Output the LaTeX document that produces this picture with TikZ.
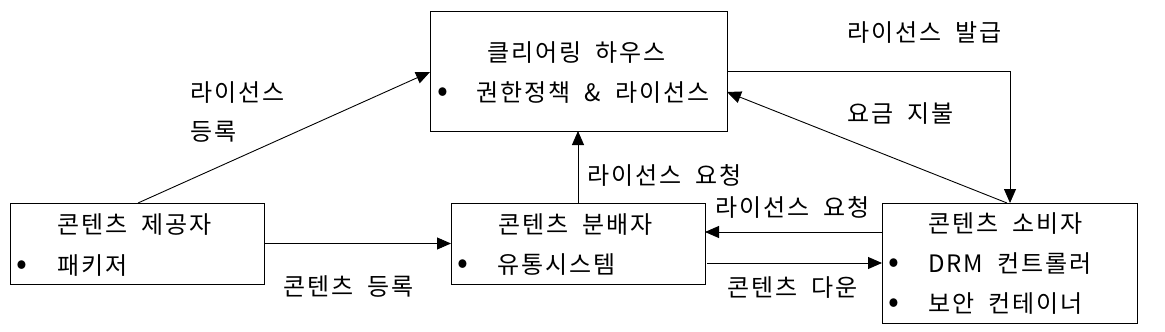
\documentclass[tikz,border=0pt]{standalone}
\usepackage{fontspec}
\setmainfont[WordSpace=2,LetterSpace=8]{Noto Sans CJK KR}
\usetikzlibrary{arrows.meta,calc}
\begin{document}
\begin{tikzpicture}[x=1pt,y=-1pt,
  box/.style={draw,line width=1pt,inner sep=0,outer sep=0},
  txt/.style={inner sep=0,anchor=west,text height=20pt,text depth=2pt,font=\fontsize{24}{28}\selectfont},
  bul/.style={inner sep=0,anchor=center,text height=20pt,text depth=2pt,font=\fontsize{32}{36}\selectfont},
  arr/.style={line width=0.9pt,-{Triangle[length=14pt,width=12pt]}}]
\useasboundingbox (0,0) rectangle (1165,332);
% boxes
\node[box,minimum width=297pt,minimum height=120pt] (ch) at (578.5,71) {};
\node[box,minimum width=254pt,minimum height=81pt] (prov) at (137,243.5) {};
\node[box,minimum width=254pt,minimum height=81pt] (dist) at (578,243.5) {};
\node[box,minimum width=255pt,minimum height=120pt] (cons) at (1009.5,263) {};
% box texts
\node[txt] (cht) at (487,52) {클리어링 하우스};
\node[bul] (chb) at (443,92) {•};
\node[txt] (chl) at (476,92) {권한정책 \& 라이선스};
\node[txt] (pvt) at (57,224) {콘텐츠 제공자};
\node[bul] (pvb) at (22,265) {•};
\node[txt] (pvl) at (57,265) {패키저};
\node[txt] (dtt) at (498,224) {콘텐츠 분배자};
\node[bul] (dtb) at (463,264) {•};
\node[txt] (dtl) at (497,264) {유통시스템};
\node[txt] (cst) at (928,223) {콘텐츠 소비자};
\node[bul] (csb1) at (894,263) {•};
\node[txt] (csl1) at (928,263) {DRM 컨트롤러};
\node[bul] (csb2) at (894,303) {•};
\node[txt] (csl2) at (928,303) {보안 컨테이너};
% connectors
\draw[arr] ($(prov.north west)+(128,0)$) -- ($(ch.north west)+(0,61)$);
\draw[arr] (prov.east) -- (dist.west);
\draw[arr] (dist.north) -- (dist.north |- ch.south);
\coordinate (c1) at ($(cons.north west)+(0,29)$);
\draw[arr] (c1) -- (dist.east |- c1);
\coordinate (d1) at ($(dist.east)+(2,19.5)$);
\draw[arr] (d1) -- (cons.west |- d1);
\draw[arr] ($(ch.north east)+(0,60)$) -| ($(cons.north west)+(128,0)$);
\draw[arr] ($(cons.north west)+(125,0)$) -- ($(ch.north east)+(0,81)$);
% labels
\node[txt] (l1a) at (190,92) {라이선스};
\node[txt] (l1b) at (190,131) {등록};
\node[txt] (l2) at (283,286) {콘텐츠 등록};
\node[txt] (l3) at (587,175) {라이선스 요청};
\node[txt] (l4) at (715,207) {라이선스 요청};
\node[txt] (l5) at (727,287) {콘텐츠 다운};
\node[txt] (l6) at (847,32) {라이선스 발급};
\node[txt] (l7) at (847,113) {요금 지불};
\end{tikzpicture}
\end{document}
